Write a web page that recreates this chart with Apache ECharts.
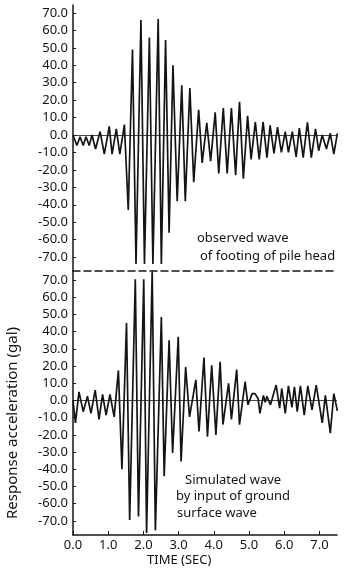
<!DOCTYPE html>
<html>
<head>
<meta charset="utf-8">
<script src="https://cdn.jsdelivr.net/npm/echarts@6/dist/echarts.min.js"></script>
<style>
  html, body { margin: 0; padding: 0; background: #fff; }
  #chart { width: 348px; height: 571px; }
</style>
</head>
<body>
<div id="chart"></div>
<script>
// observed wave (footing of pile head): time (sec) / acceleration (gal)
const topTime = [0.00,0.11,0.20,0.29,0.37,0.46,0.54,0.64,0.77,0.89,1.03,1.11,1.23,1.33,1.46,1.57,1.69,1.79,1.93,2.03,2.17,2.27,2.42,2.51,2.63,2.73,2.84,2.96,3.09,3.19,3.32,3.43,3.57,3.67,3.80,3.91,4.04,4.14,4.27,4.38,4.50,4.62,4.73,4.84,4.96,5.06,5.18,5.29,5.40,5.51,5.60,5.71,5.81,5.92,6.03,6.12,6.23,6.34,6.43,6.54,6.66,6.77,6.89,6.98,7.08,7.20,7.31,7.41,7.51];
const topAccel = [0,-6,-1,-6,-1,-6,0,-8,2,-11,5,-11,3.5,-11,6,-43,49,-74,66,-74,56,-74,66.5,-74,54.5,-56,40,-38,28.5,-38,27,-27,14.5,-16,7,-15,13,-22,15.5,-22,15.5,-23,19,-25,11,-14,7.5,-14,7.5,-13,5.5,-10.5,4.5,-10,2,-10,2,-12.5,4,-13,7.3,-13,3.5,-9,0,-8,1,-11,1];

// simulated wave (input of ground surface wave)
const bottomTime = [0.00,0.07,0.17,0.29,0.41,0.51,0.63,0.74,0.84,0.94,1.05,1.17,1.29,1.39,1.52,1.61,1.77,1.86,2.01,2.09,2.25,2.34,2.51,2.59,2.73,2.83,2.99,3.07,3.20,3.31,3.49,3.58,3.72,3.82,3.94,4.06,4.18,4.26,4.42,4.50,4.65,4.73,4.89,4.97,5.09,5.17,5.26,5.31,5.41,5.46,5.51,5.61,5.77,5.87,5.93,6.03,6.12,6.22,6.29,6.37,6.46,6.57,6.67,6.79,6.91,7.08,7.17,7.31,7.41,7.51];
const bottomAccel = [0,-13,5,-6.5,2.5,-7.5,6,-11,3.5,-8.5,3.5,-9.5,17.5,-40,45,-69.5,70.5,-67.5,70.5,-77,75,-75.5,48.5,-44,35,-30.5,37,-35.5,19.5,-9.5,12,-18,25,-21,20.5,-20,22.5,-14,10,-11,18,-14,11,-2.5,4,4,1,-7.5,3,-1,2.5,-2.5,9,-4.5,7,-7.5,8.5,-4,8,-6.5,8.5,-8.5,8.5,-5.5,9,-13,3,-19,4,-6];

const timeTicks = [0, 1, 2, 3, 4, 5, 6, 7];
const accelTicks = [-70, -60, -50, -40, -30, -20, -10, 0, 10, 20, 30, 40, 50, 60, 70];

const ink = '#141414';
const font = 'Noto Sans';
const fmt = (v) => v.toFixed(1);

const chart = echarts.init(document.getElementById('chart'));

function accelAxis(gridIndex, min, max) {
  return {
    gridIndex: gridIndex,
    type: 'value',
    min: min,
    max: max,
    axisLine: { show: true, onZero: false, lineStyle: { color: ink, width: 1.5 } },
    axisTick: { show: true, inside: true, length: 3, customValues: accelTicks, lineStyle: { color: ink } },
    axisLabel: { customValues: accelTicks, formatter: fmt, color: ink, fontSize: 13, fontFamily: font, margin: 5 },
    splitLine: { show: false }
  };
}

function wave(idx, times, values) {
  return {
    type: 'line',
    xAxisIndex: idx,
    yAxisIndex: idx,
    data: times.map((t, i) => [t, values[i]]),
    symbol: 'none',
    lineStyle: { color: ink, width: 1.7 },
    markLine: {
      silent: true,
      symbol: 'none',
      label: { show: false },
      lineStyle: { color: ink, width: 0.8, type: 'solid' },
      data: [{ yAxis: 0 }]
    }
  };
}

const textStyle = { fill: ink, fontSize: 13, fontFamily: font };

const option = {
  animation: false,
  grid: [
    { left: 73, right: 11, top: 5, height: 266 },
    { left: 73, right: 11, top: 271, height: 264 }
  ],
  xAxis: [
    {
      gridIndex: 0,
      type: 'value',
      min: 0,
      max: 7.5,
      axisLine: { onZero: false, lineStyle: { color: ink, width: 1.5, type: [7, 4] } },
      axisTick: { show: false },
      axisLabel: { show: false },
      splitLine: { show: false }
    },
    {
      gridIndex: 1,
      type: 'value',
      min: 0,
      max: 7.5,
      axisLine: { onZero: false, lineStyle: { color: ink, width: 1.5 } },
      axisTick: { inside: true, length: 4, customValues: timeTicks, lineStyle: { color: ink } },
      axisLabel: { customValues: timeTicks, formatter: fmt, color: ink, fontSize: 13, fontFamily: font, margin: 4 },
      splitLine: { show: false }
    }
  ],
  yAxis: [
    accelAxis(0, -78, 74.6),
    accelAxis(1, -78.2, 75.3)
  ],
  series: [
    wave(0, topTime, topAccel),
    wave(1, bottomTime, bottomAccel)
  ],
  graphic: [
    { type: 'text', left: 197, top: 232, style: Object.assign({ text: 'observed wave' }, textStyle) },
    { type: 'text', left: 200, top: 250, style: Object.assign({ text: 'of footing of pile head' }, textStyle) },
    { type: 'text', left: 185, top: 474, style: Object.assign({ text: 'Simulated wave' }, textStyle) },
    { type: 'text', left: 176, top: 490, style: Object.assign({ text: 'by input of ground' }, textStyle) },
    { type: 'text', left: 177, top: 507, style: Object.assign({ text: 'surface wave' }, textStyle) },
    { type: 'text', left: 147, top: 554, style: Object.assign({ text: 'TIME (SEC)' }, textStyle) },
    {
      type: 'text',
      x: 13,
      y: 423,
      rotation: Math.PI / 2,
      style: Object.assign({}, textStyle, { text: 'Response acceleration (gal)', fontSize: 15, textAlign: 'center', textVerticalAlign: 'middle' })
    }
  ]
};

chart.setOption(option);
</script>
</body>
</html>
